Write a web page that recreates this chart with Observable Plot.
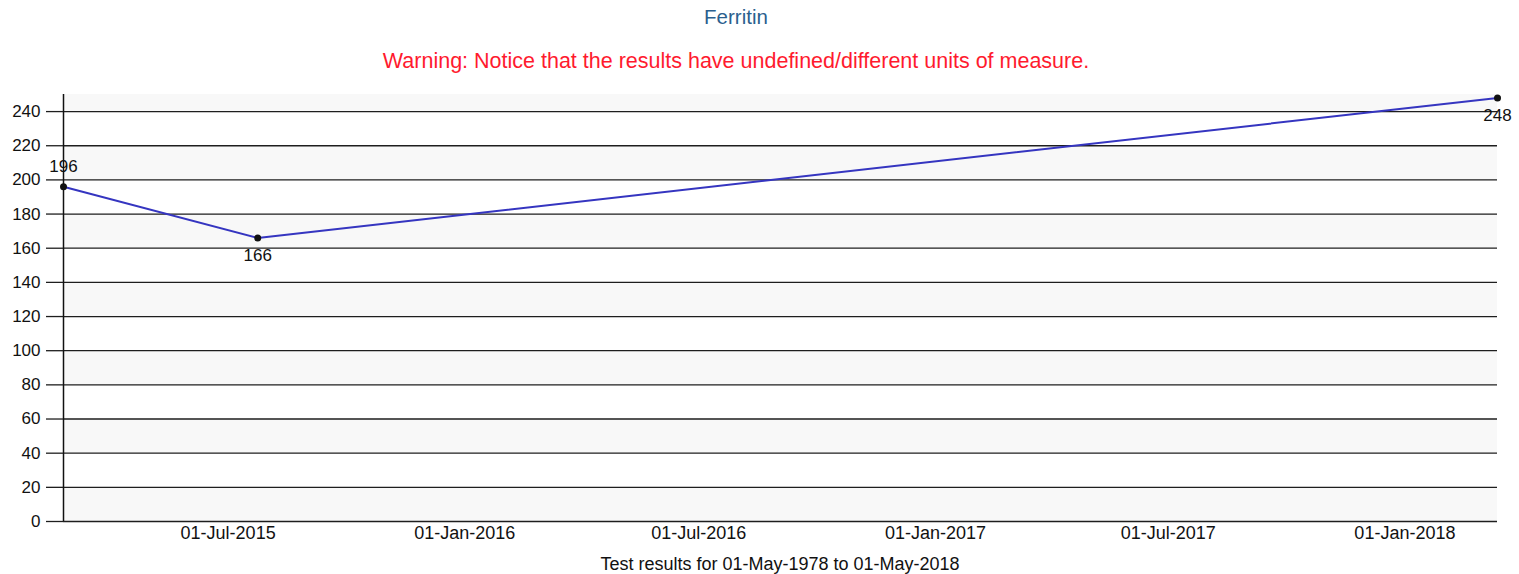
<!DOCTYPE html>
<html><head><meta charset="utf-8">
<script src="https://cdn.jsdelivr.net/npm/d3@7"></script>
<script src="https://cdn.jsdelivr.net/npm/@observablehq/plot@0.6"></script>
<style>
body{margin:0;background:#fff;font-family:"Liberation Sans",Arial,sans-serif;}
#wrap{position:relative;width:1519px;height:574px;overflow:hidden;}
.t{position:absolute;white-space:nowrap;transform:translate(-50%,-50%);line-height:1;}
</style></head><body>
<div id="wrap">
<div class="t" id="title" style="left:736px;top:17px;color:#2b5f8e;font-size:20.5px">Ferritin</div>
<div class="t" id="warn" style="left:736px;top:62px;color:#ff1a2e;font-size:21.5px">Warning: Notice that the results have undefined/different units of measure.</div>
<div id="chart" style="position:absolute;left:0;top:80px"></div>
<div class="t" id="cap" style="left:780px;top:564px;color:#111;font-size:18px">Test results for 01-May-1978 to 01-May-2018</div>
</div>
<script>
// Data
const dates = ["2015-02-23", "2015-07-24", "2018-03-14"];
const values = [196, 166, 248];
const yTicks = [0, 20, 40, 60, 80, 100, 120, 140, 160, 180, 200, 220, 240];
const xTicks = ["2015-07-01", "2016-01-01", "2016-07-01", "2017-01-01", "2017-07-01", "2018-01-01"];
const yMax = 250;

const data = dates.map((d, i) => ({date: new Date(d + "T00:00:00Z"), value: values[i], i}));
const xTickDates = xTicks.map(d => new Date(d + "T00:00:00Z"));
const bands = yTicks.filter((t, i) => i % 2 === 0).map(t => ({y1: t, y2: Math.min(t + 20, yMax)}));
const fmt = d3.utcFormat("%d-%b-%Y");

const chart = Plot.plot({
  width: 1519,
  height: 470,
  marginTop: 14,
  marginBottom: 29,
  marginLeft: 63,
  marginRight: 22,
  style: {fontFamily: "Liberation Sans, Arial, sans-serif", fontSize: "17px", color: "#111", background: "white"},
  x: {type: "utc", domain: d3.extent(data, d => d.date), ticks: xTickDates, tickFormat: fmt, tickSize: 0, tickPadding: 5, label: null},
  y: {domain: [0, yMax], ticks: yTicks, tickSize: 17, tickPadding: 6, label: null},
  marks: [
    Plot.rectY(bands, {y1: "y1", y2: "y2", x1: data[0].date, x2: data[data.length - 1].date, fill: "#f8f8f8"}),
    Plot.ruleY(yTicks, {stroke: "#1e1e1e", strokeWidth: 1.3}),
    Plot.ruleX([data[0].date], {stroke: "#111", strokeWidth: 1.5}),
    Plot.line(data, {x: "date", y: "value", stroke: "#3535c0", strokeWidth: 2}),
    Plot.dot(data, {x: "date", y: "value", r: 3.5, fill: "#111"}),
    Plot.text(data.filter(d => d.i === 0), {x: "date", y: "value", text: d => String(d.value), dy: -20, fill: "#111"}),
    Plot.text(data.filter(d => d.i > 0), {x: "date", y: "value", text: d => String(d.value), dy: 18, fill: "#111"}),
    Plot.axisY({ticks: yTicks, tickSize: 17, tickPadding: 6, stroke: "#1e1e1e", strokeWidth: 1.3}),
    Plot.axisX({ticks: xTickDates, tickFormat: fmt, tickSize: 0, tickPadding: 5, fontSize: 18})
  ]
});
document.getElementById("chart").appendChild(chart);
</script>
</body></html>
